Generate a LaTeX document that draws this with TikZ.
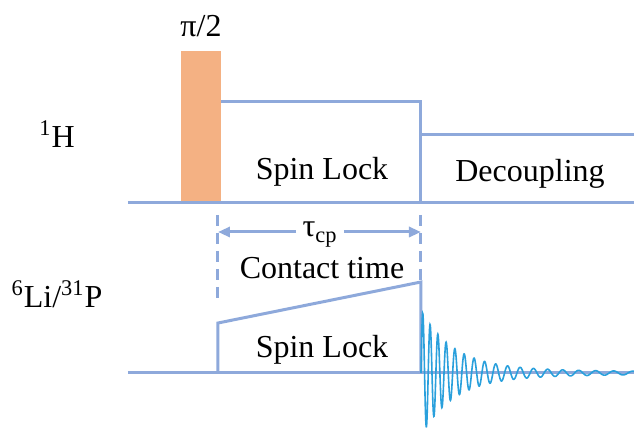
\documentclass[tikz,border=0pt]{standalone}
\usepackage{fontspec}
\setmainfont{Liberation Serif}
\usetikzlibrary{arrows.meta}
\usepackage{xcolor}

\definecolor{seqblue}{HTML}{8EA9DB}
\definecolor{pulseorange}{HTML}{F4B183}
\definecolor{fidblue}{HTML}{2AA0DC}

\begin{document}
\begin{tikzpicture}[x=0.5pt,y=-0.5pt]
    \tikzstyle{pulseline} = [draw=seqblue, line width=1.5pt]
    \tikzstyle{timemark} = [draw=seqblue, line width=1.5pt, dash pattern=on 5.5pt off 3.5pt]
    \tikzstyle{timespan} = [draw=seqblue, line width=1.5pt, -{Triangle[length=6pt,width=5pt]}]
    \tikzstyle{seqtext} = [font=\fontsize{16}{19}\selectfont, anchor=base, inner sep=0pt]

    \useasboundingbox (0,0) rectangle (634,433);

    % 1H channel: pi/2 pulse, spin lock, decoupling
    \fill[pulseorange] (181,51) rectangle (221,203);
    \draw[pulseline] (221,102) -- (421,102) -- (421,203);
    \draw[pulseline] (421,135) -- (634,135);
    \draw[pulseline] (128,203) -- (634,203);

    % 6Li/31P channel: ramped spin lock
    \draw[pulseline] (218,373) -- (218,323) -- (421,282) -- (421,373);
    \draw[pulseline] (128,373) -- (634,373);

    % FID
    \draw[fidblue, line width=0.8pt] plot[domain=0:213, samples=900]
      ({421+\x}, {373 - (58*exp(-\x/32) + 5*exp(-\x/200))*sin(6000*ln(1+\x/116.7))});

    % contact time markers
    \coordinate (cpstart) at (218,232);
    \coordinate (cpend) at (421,232);
    \draw[timemark] (218,215) -- (218,300);
    \draw[timemark] (421,215) -- (421,282);

    % Labels
    \node[seqtext] (pihalf) at (201,37) {π/2};
    \node[seqtext] (lockH) at (322,180) {Spin Lock};
    \node[seqtext] (decouple) at (530,182) {Decoupling};
    \node[seqtext] (hname) at (57,148) {\textsuperscript{1}H};
    \node[seqtext] (xname) at (57,308) {\textsuperscript{6}Li/\textsuperscript{31}P};
    \node[seqtext] (contact) at (322,279) {Contact time};
    \node[seqtext] (lockX) at (322,358) {Spin Lock};
    \node[seqtext, inner xsep=3pt] (tau) at (320,237) {τ\textsubscript{cp}};

    \draw[timespan] (tau.west |- cpstart) -- (cpstart);
    \draw[timespan] (tau.east |- cpend) -- (cpend);

\end{tikzpicture}
\end{document}
